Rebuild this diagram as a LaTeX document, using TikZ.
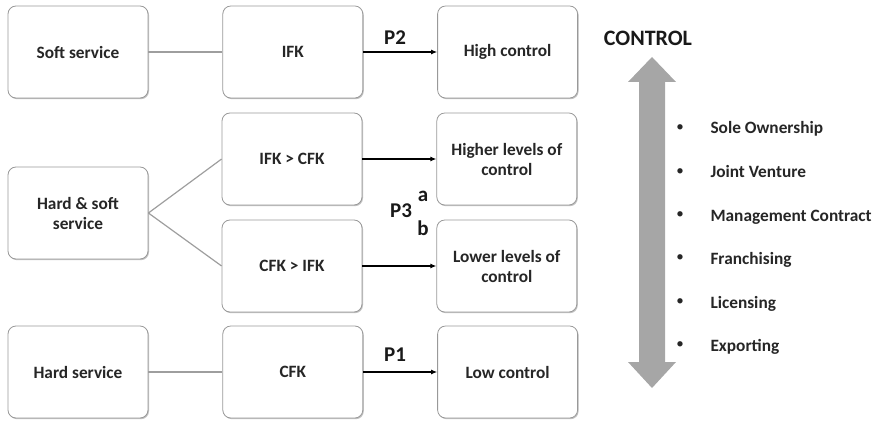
\documentclass[tikz,border=0pt]{standalone}
\usepackage{fontspec}
\setmainfont{Carlito}
\usetikzlibrary{arrows.meta,positioning,shadows}

\begin{document}
\begin{tikzpicture}[
  x=1pt,y=-1pt,
  node distance=74pt,
  box/.style={draw=black!40,rounded corners=8pt,align=center,minimum height=92pt,minimum width=140pt,line width=0.8pt,
    font=\bfseries\fontsize{17.3}{20}\selectfont,text=black!85,fill=white,
    drop shadow={shadow xshift=1pt,shadow yshift=-1.2pt,fill=black!30,opacity=0.8}},
  link/.style={draw=black!38,line width=1.2pt},
  arrow/.style={-{Latex[length=6pt,width=5pt]},line width=1.3pt},
  plabel/.style={font=\bfseries\fontsize{21}{21}\selectfont,text=black!90},
  item/.style={anchor=base west,font=\bfseries\fontsize{17.3}{20}\selectfont,text=black!85},
  dot/.style={inner sep=0pt,font=\fontsize{15}{15}\selectfont,text=black!85}
]
\useasboundingbox (0,0) rectangle (877,422);

% left column and the chains to the right
\node[box] (soft) at (78,52) {Soft service};
\node[box,right=of soft] (ifk) {IFK};
\node[box,right=of ifk] (high) {High control};

\node[box] (mixed) at (78,213) {Hard \& soft\\service};
\node[box] (ifkcfk) at (292,159) {IFK > CFK};
\node[box,right=of ifkcfk] (higher) {Higher levels of\\control};
\node[box] (cfkifk) at (292,266) {CFK > IFK};
\node[box,right=of cfkifk] (lower) {Lower levels of\\control};

\node[box] (hard) at (78,372) {Hard service};
\node[box,right=of hard] (cfk) {CFK};
\node[box,right=of cfk] (low) {Low control};

\draw[link] (soft) -- (ifk);
\draw[link] (hard) -- (cfk);
\draw[link] (mixed.east) -- (ifkcfk.west);
\draw[link] (mixed.east) -- (cfkifk.west);

\draw[arrow] (ifk) -- (high);
\draw[arrow] (ifkcfk) -- (higher);
\draw[arrow] (cfkifk) -- (lower);
\draw[arrow] (cfk) -- (low);

\node[plabel] (p2) at (395,38) {P2};
\node[plabel] (p1) at (395,355) {P1};
\node[plabel] (p3) at (401,211) {P3};
\node[plabel] (p3a) at (423,196) {a};
\node[plabel] (p3b) at (423,228) {b};

% control scale
\node[font=\bfseries\fontsize{22}{22}\selectfont,text=black!90] (control) at (648,38) {CONTROL};
\fill[black!35] (652,57) -- (676,82) -- (665,82) -- (665,362) -- (676,362) -- (652,388)
  -- (628,362) -- (639,362) -- (639,82) -- (628,82) -- cycle;

\node[item] (sole) at (707,134) {Sole Ownership};
\node[item] (joint) at (707,178) {Joint Venture};
\node[item] (mgmt) at (707,221) {Management Contract};
\node[item] (fran) at (707,264) {Franchising};
\node[item] (lic) at (707,308) {Licensing};
\node[item] (exp) at (707,351) {Exporting};
\node[dot] at (680,128) {\textbullet};
\node[dot] at (680,172) {\textbullet};
\node[dot] at (680,215) {\textbullet};
\node[dot] at (680,258) {\textbullet};
\node[dot] at (680,302) {\textbullet};
\node[dot] at (680,345) {\textbullet};
\end{tikzpicture}
\end{document}
